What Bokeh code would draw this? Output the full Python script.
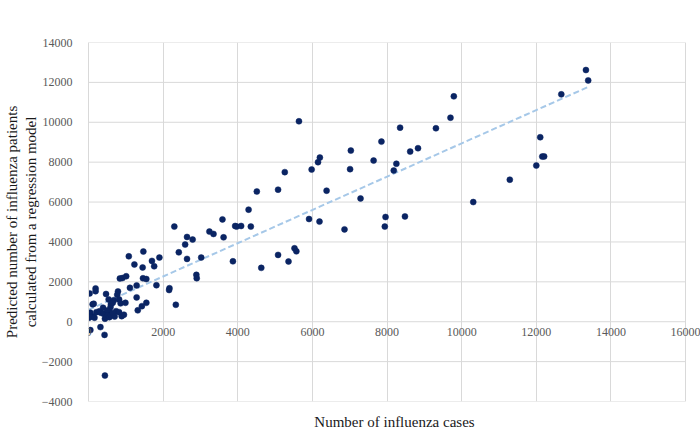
from bokeh.plotting import figure
from bokeh.models import Range1d, FixedTicker, LinearAxis, LabelSet, ColumnDataSource
from bokeh.embed import file_html
from bokeh.resources import INLINE

# Observed influenza cases (x) vs. predicted patients from regression (y)
cases = [
    13330, 13390, 12670, 12105, 12160, 12210, 12000, 11290, 10310, 9790,
    9700, 9310, 8350, 8620, 8830, 8480, 7850, 7030, 6200, 6150,
    7640, 8250, 8180, 5980, 7010, 5260, 5640, 5080, 6380, 7290,
    5910, 6190, 6860, 7960, 7940, 5080, 5360, 5520, 5570, 4510,
    4290, 3590, 3930, 3970, 4090, 4350, 2300, 3240, 3350, 3620,
    2640, 2790, 2590, 2420, 1470, 2640, 3020, 3870, 4630, 1700,
    1760, 1900, 1450, 2890, 2900, 1460, 1550, 1820, 2170, 2160,
    2340, 1550, 1430, 1080, 1230, 840, 910, 1010, 1110, 30,
    190, 190, 470, 790, 770, 540, 680, 820, 860, 990,
    1290, 1320, 110, 140, 390, 590, 570, 740, 820, 890,
    950, 110, 50, 20, 15, 35, 160, 210, 290, 50,
    320, 430, 440, 330, 400, 440, 480, 500, 520, 560,
    600, 650, 700, 600, 650, 1290,
]
predicted = [
    12620, 12100, 11400, 9250, 8280, 8290, 7830, 7120, 6000, 11300,
    10230, 9700, 9730, 8530, 8700, 5280, 9030, 8580, 8230, 8000,
    8080, 7920, 7580, 7630, 7650, 7500, 10050, 6620, 6570, 6180,
    5150, 5020, 4630, 5250, 4770, 3350, 3020, 3680, 3530, 6530,
    5620, 5130, 4800, 4770, 4800, 4770, 4770, 4520, 4400, 4230,
    4250, 4120, 3870, 3480, 3520, 3150, 3220, 3030, 2700, 3050,
    2780, 3220, 2720, 2350, 2180, 2180, 2140, 1830, 1680, 1590,
    850, 950, 780, 3280, 2870, 2170, 2190, 2280, 1700, 1420,
    1670, 1530, 1390, 1520, 1350, 1120, 1080, 1120, 920, 950,
    1220, 570, 870, 900, 700, 730, 480, 530, 480, 280,
    350, 280, 450, 370, 200, 250, 200, 480, 520, -420,
    -270, -660, -2700, 450, 400, 150, 250, 560, 330, 230,
    320, 420, 260, 880, 950, 1820,
]

# Linear trend line end points
trend_x = [0, 13400]
trend_y = [600, 11780]

x_ticks = [0, 2000, 4000, 6000, 8000, 10000, 12000, 14000, 16000]
x_tick_labels = [str(v) for v in x_ticks]
y_ticks = [-4000, -2000, 0, 2000, 4000, 6000, 8000, 10000, 12000, 14000]

x_title = "Number of influenza cases"
y_title_1 = "Predicted number of influenza patients"
y_title_2 = "calculated from a regression model"

SERIF = "Liberation Serif"
GRID = "#d9d9d9"
TICK_COLOR = "#595959"
TITLE_COLOR = "#1a1a1a"

p = figure(
    width=700, height=432,
    x_range=Range1d(0, 16400), y_range=Range1d(-4000, 14000),
    output_backend="svg", toolbar_location=None,
    min_border_left=88, min_border_right=0, min_border_top=42, min_border_bottom=30,
)
p.outline_line_color = None
p.background_fill_color = "white"
p.border_fill_color = "white"

# x axis: only the title (tick labels are drawn at y=0 inside the plot)
xa = p.xaxis[0]
xa.ticker = FixedTicker(ticks=[])
xa.major_label_standoff = 0
xa.major_tick_line_color = None
xa.minor_tick_line_color = None
xa.axis_line_color = None
xa.axis_label = x_title
xa.axis_label_text_font = SERIF
xa.axis_label_text_font_size = "15px"
xa.axis_label_text_font_style = "normal"
xa.axis_label_text_color = TITLE_COLOR
xa.axis_label_standoff = 12

ya = p.yaxis[0]
ya.ticker = FixedTicker(ticks=y_ticks)
ya.major_label_text_font = SERIF
ya.major_label_text_font_size = "12px"
ya.major_label_text_color = TICK_COLOR
ya.major_tick_line_color = None
ya.minor_tick_line_color = None
ya.axis_line_color = GRID
ya.major_label_standoff = 10
ya.axis_label = y_title_2
ya.axis_label_text_font = SERIF
ya.axis_label_text_font_size = "15px"
ya.axis_label_text_font_style = "normal"
ya.axis_label_text_color = TITLE_COLOR
ya.axis_label_standoff = 0

outer = LinearAxis(
    ticker=FixedTicker(ticks=[]), axis_label=y_title_1,
    axis_label_text_font=SERIF, axis_label_text_font_size="15px",
    axis_label_text_font_style="normal", axis_label_text_color=TITLE_COLOR,
    axis_label_standoff=0, major_label_standoff=0,
    axis_line_color=None, major_tick_line_color=None, minor_tick_line_color=None,
)
p.add_layout(outer, "left")

p.xgrid.ticker = FixedTicker(ticks=x_ticks)
p.xgrid.grid_line_color = GRID
p.ygrid.visible = False
# horizontal gridlines spanning only the 0..16000 range
p.segment(x0=[x_ticks[0]] * len(y_ticks), x1=[x_ticks[-1]] * len(y_ticks),
          y0=y_ticks, y1=y_ticks, line_color=GRID, line_width=1)

p.line(trend_x, trend_y, line_color="#a6c8e8", line_width=2, line_dash="6 3")
p.scatter(cases, predicted, size=6, fill_color="#0a2463", line_color="#0a2463", line_width=0.5)

lab_src = ColumnDataSource(dict(x=x_ticks, y=[0] * len(x_ticks), text=x_tick_labels))
p.add_layout(LabelSet(
    x="x", y="y", text="text", source=lab_src,
    text_align="center", text_baseline="top", y_offset=-6,
    text_font=SERIF, text_font_size="12px", text_color=TICK_COLOR,
))

open("out.html", "w").write(file_html(p, INLINE))
